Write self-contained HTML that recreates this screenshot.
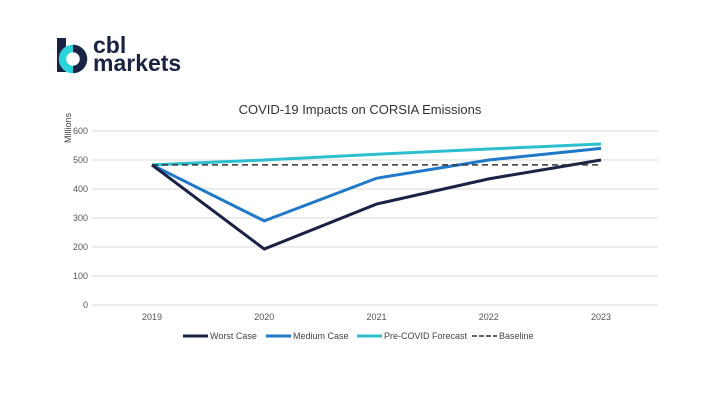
<!DOCTYPE html>
<html><head><meta charset="utf-8"><style>
body{margin:0;background:#fff;width:720px;height:405px;overflow:hidden;font-family:"Liberation Sans",sans-serif}
</style></head><body>
<svg width="720" height="405">
<g>
<rect x="57" y="38" width="9" height="34" fill="#1b2244"/>
<circle cx="73" cy="59" r="10.5" fill="none" stroke="#2ad4d8" stroke-width="7.5"/>
<path d="M73 44.8 A14.2 14.2 0 0 1 73 73.2 L73 65.8 A6.8 6.8 0 0 0 73 52.2 Z" fill="#1b2244"/>
<text x="93" y="53" font-size="23" font-weight="bold" fill="#1b2244">cbl</text>
<text x="93" y="71" font-size="23" font-weight="bold" fill="#1b2244">markets</text>
</g>
<text x="360" y="114" font-size="13" text-anchor="middle" fill="#333">COVID-19 Impacts on CORSIA Emissions</text>
<text transform="translate(71,128) rotate(-90)" font-size="9" fill="#444" text-anchor="middle">Millions</text>
<g id="grid"></g><g id="series"></g>
<g id="legend"></g>
</svg>
<script>
const categories=["2019","2020","2021","2022","2023"];
const yTicks=[0,100,200,300,400,500,600];
const worstCase=[483,193,348,435,500];
const mediumCase=[483,290,437,500,540];
const preCovid=[483,500,520,538,555];
const baseline=[483,483,483,483,483];
const NS="http://www.w3.org/2000/svg";
const x=i=>152+i*112.25, y=v=>305-v*0.29;
function mk(t,a,p){const e=document.createElementNS(NS,t);for(const k in a)e.setAttribute(k,a[k]);p.appendChild(e);return e;}
const g=document.getElementById('grid');
yTicks.forEach(v=>{
 const l=mk('line',{x1:92,x2:658,y1:y(v),y2:y(v),stroke:'#d9d9d9','stroke-width':1},g);
 
 
 const t=mk('text',{x:88,y:y(v)+3,'font-size':9,'text-anchor':'end',fill:'#555'},g);t.textContent=v;
 
 
});
categories.forEach((c,i)=>{
 const t=mk('text',{x:x(i),y:320,'font-size':9,'text-anchor':'middle',fill:'#555'},g);t.textContent=c;
 
 
});
const S=[["Worst Case",worstCase,"#1b2244",""],["Medium Case",mediumCase,"#1f78c8",""],["Pre-COVID Forecast",preCovid,"#2bbfcf",""],["Baseline",baseline,"#333","6,4"]];
const sg=document.getElementById('series');
[2,1,0,3].forEach(k=>{const s=S[k];
 const p=mk('polyline',{points:s[1].map((v,i)=>x(i)+','+y(v)).join(' '),fill:'none',stroke:s[2],'stroke-width':s[3]?1.5:3,'stroke-dasharray':s[3]},sg);
 
 
});
const lg=document.getElementById('legend');const lx=[183,266,357,472];
S.forEach((s,k)=>{
 mk('line',{x1:lx[k],x2:lx[k]+25,y1:336,y2:336,stroke:s[2],'stroke-width':s[3]?1.5:3,'stroke-dasharray':s[3]?'5,2':''},lg);
 const t=mk('text',{x:lx[k]+27,y:339,'font-size':9,fill:'#444'},lg);t.textContent=s[0];
 
 
});
</script>
</body></html>
